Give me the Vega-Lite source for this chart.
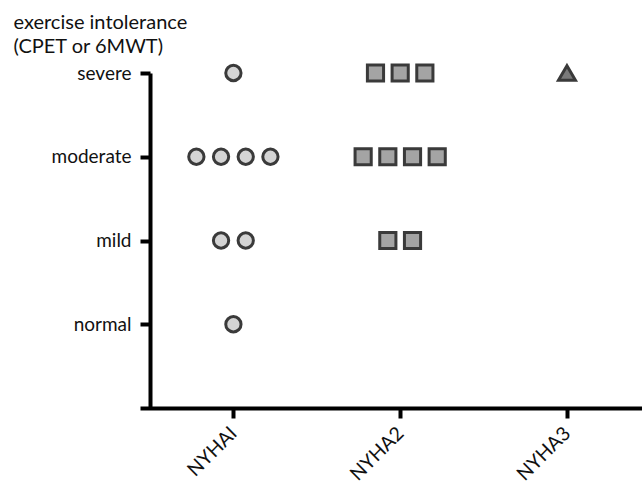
{
  "$schema": "https://vega.github.io/schema/vega-lite/v6.json",
  "width": 502,
  "height": 335,
  "autosize": {"type": "none"},
  "padding": {"left": 140, "top": 73, "right": 0, "bottom": 76},
  "background": "white",
  "config": {
    "view": {"stroke": null},
    "axis": {
      "grid": false,
      "domainColor": "#000",
      "domainWidth": 4,
      "tickColor": "#000",
      "tickWidth": 4,
      "tickSize": 10,
      "labelFont": "Lato",
      "labelFontSize": 19,
      "labelColor": "#111",
      "titleFont": "Lato",
      "titleFontSize": 20,
      "titleFontWeight": "normal",
      "titleColor": "#111"
    }
  },
  "data": {
    "values": [
      {"nyha": 1, "level": "severe"},
      {"nyha": 1, "level": "moderate"},
      {"nyha": 1, "level": "moderate"},
      {"nyha": 1, "level": "moderate"},
      {"nyha": 1, "level": "moderate"},
      {"nyha": 1, "level": "mild"},
      {"nyha": 1, "level": "mild"},
      {"nyha": 1, "level": "normal"},
      {"nyha": 2, "level": "severe"},
      {"nyha": 2, "level": "severe"},
      {"nyha": 2, "level": "severe"},
      {"nyha": 2, "level": "moderate"},
      {"nyha": 2, "level": "moderate"},
      {"nyha": 2, "level": "moderate"},
      {"nyha": 2, "level": "moderate"},
      {"nyha": 2, "level": "mild"},
      {"nyha": 2, "level": "mild"},
      {"nyha": 3, "level": "severe"}
    ]
  },
  "transform": [
    {"window": [{"op": "row_number", "as": "i"}], "groupby": ["nyha", "level"]},
    {"joinaggregate": [{"op": "count", "as": "n"}], "groupby": ["nyha", "level"]},
    {"calculate": "datum.nyha + (datum.i - (datum.n + 1) / 2) * 0.148", "as": "xpos"}
  ],
  "mark": {"type": "point", "filled": true, "stroke": "#3a3a3a", "strokeWidth": 3, "strokeOpacity": 1, "opacity": 1},
  "encoding": {
    "x": {
      "field": "xpos",
      "type": "quantitative",
      "scale": {"domain": [0.44, 3.45], "nice": false, "zero": false},
      "axis": {
        "title": null,
        "values": [1, 2, 3],
        "labelExpr": "['NYHAI','NYHA2','NYHA3'][datum.value - 1]",
        "labelAngle": -45,
        "labelAlign": "right",
        "labelBaseline": "middle",
        "labelPadding": 12,
        "labelFontSize": 19.5
      }
    },
    "y": {
      "field": "level",
      "type": "ordinal",
      "scale": {"type": "point", "domain": ["severe", "moderate", "mild", "normal"], "padding": 0.5, "align": 0},
      "axis": {
        "offset": -10,
        "title": ["exercise intolerance", "(CPET or 6MWT)"],
        "titleAngle": 0,
        "titleAlign": "left",
        "titleBaseline": "alphabetic",
        "titleLineHeight": 24,
        "titleX": -137,
        "titleY": -45,
        "labelPadding": 9
      }
    },
    "shape": {
      "field": "nyha",
      "type": "nominal",
      "scale": {"domain": [1, 2, 3], "range": ["circle", "square", "triangle-up"]},
      "legend": null
    },
    "fill": {
      "field": "nyha",
      "type": "nominal",
      "scale": {"domain": [1, 2, 3], "range": ["#d4d4d4", "#a4a4a4", "#7a7a7a"]},
      "legend": null
    },
    "size": {
      "field": "nyha",
      "type": "nominal",
      "scale": {"domain": [1, 2, 3], "range": [234, 289, 520]},
      "legend": null
    }
  }
}
